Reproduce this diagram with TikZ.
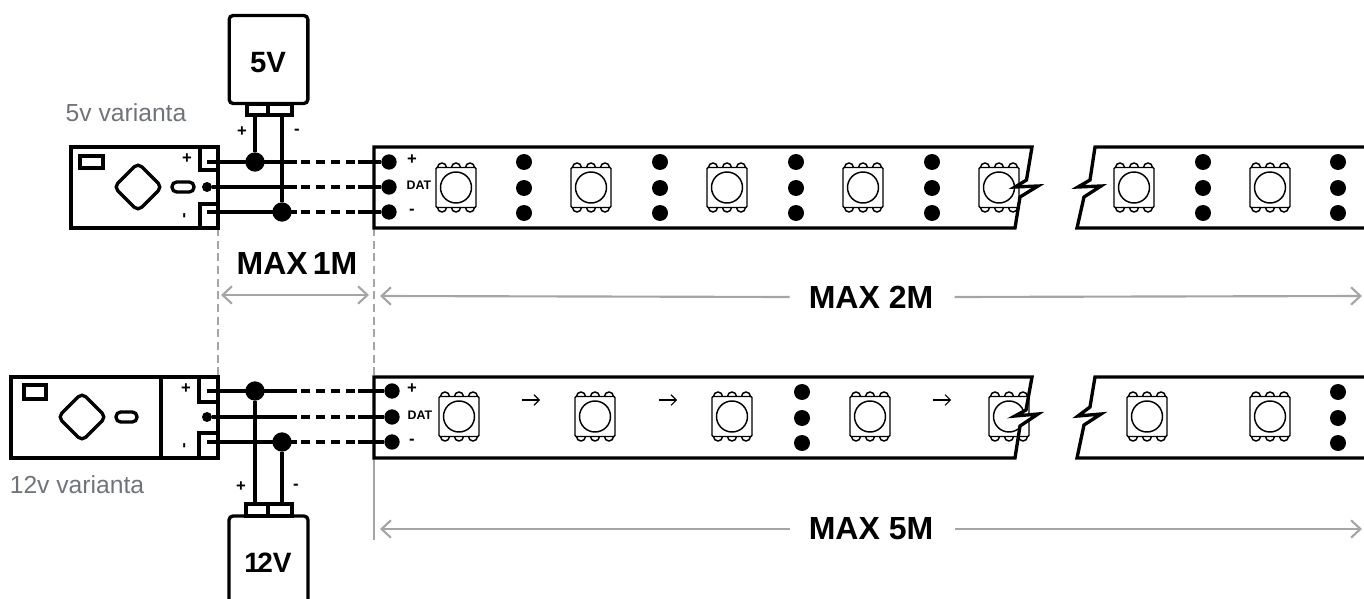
\documentclass[tikz,border=0pt]{standalone}
\usepackage{fontspec}
\setmainfont{Liberation Sans}
\usetikzlibrary{arrows.meta, calc}
\definecolor{guide}{RGB}{165, 165, 165}
\definecolor{caption}{RGB}{112, 116, 122}

\tikzset{
    box/.style={line width=2.5pt, line join=miter},
    wire/.style={line width=2.4pt},
    wiredash/.style={line width=2.4pt, dash pattern=on 6.75pt off 4.5pt},
    junction/.style={circle, fill=black, inner sep=0pt, minimum size=14.5pt},
    pad/.style={circle, fill=black, inner sep=0pt, minimum size=11.5pt},
    smalldot/.style={circle, fill=black, inner sep=0pt, minimum size=7.5pt},
    stripdot/.style={circle, fill=black, inner sep=0pt, minimum size=12pt},
    sign/.style={font=\bfseries\fontsize{12.5}{12}\selectfont, inner sep=0pt},
    datlabel/.style={font=\bfseries\fontsize{9.3}{9}\selectfont, inner sep=0pt},
    volt/.style={font=\bfseries\fontsize{22}{22}\selectfont, inner sep=0pt},
    maxlabel/.style={font=\bfseries\fontsize{24}{24}\selectfont, inner sep=0pt},
    variant/.style={font=\fontsize{18.5}{19}\selectfont, text=caption, inner sep=0pt},
    dim/.style={draw=guide, line width=1.6pt, {Straight Barb[length=7pt,width=13pt]}-{Straight Barb[length=7pt,width=13pt]}},
    dimleft/.style={draw=guide, line width=1.6pt, {Straight Barb[length=7pt,width=13pt]}-},
    dimright/.style={draw=guide, line width=1.6pt, -{Straight Barb[length=7pt,width=13pt]}},
    guideline/.style={draw=guide, line width=1.3pt},
    flow/.style={line width=0.8pt, -{Straight Barb[length=4pt,width=8pt]}},
    led/.pic={
        \draw[line width=1.1pt, fill=white, rounded corners=0.8pt] (-20,-20) rectangle (20,20);
        \foreach \b in {-14,0,14} {
            \draw[line width=1.1pt] (\b-4.5,-20) arc (180:360:4.5);
            \draw[line width=1.1pt] (\b-4.5,20) arc (180:0:4.5);
        }
        \draw[line width=1.1pt] (0,0) circle (15.5);
    }
}

\begin{document}
\begin{tikzpicture}[x=0.75pt, y=-0.75pt]
    \useasboundingbox (0,0) rectangle (1364,599);

    % Guides
    \coordinate (g1a) at (218,228);
    \coordinate (g1b) at (218,377);
    \coordinate (g2a) at (374,228);
    \coordinate (g2b) at (374,377);
    \coordinate (g3a) at (374,458);
    \coordinate (g3b) at (374,540);
    \draw[guideline, dashed, dash pattern=on 6pt off 3.5pt] (g1a) -- (g1b);
    \draw[guideline, dashed, dash pattern=on 6pt off 3.5pt] (g2a) -- (g2b);
    \draw[guideline] (g3a) -- (g3b);

    % LEDs
    \foreach \x in {456,591,727,863,999,1134,1270}
        \pic at (\x,187.5) {led};
    \foreach \x in {459,595,732,870,1009,1147,1270}
        \pic at (\x,416.5) {led};

    % Upper strip
    \fill[white] (1026.5,180) -- (1015,187) -- (1038,186) -- (1020,197) -- cycle;
    \draw[box] (1032,147) -- (374,147) -- (374,228) -- (1015,228) -- (1020,197)
        -- (1038,186) -- (1015,187) -- (1026.5,180) -- cycle;
    \draw[box] (1364,147) -- (1095,147) -- (1090,180) -- (1078,187) -- (1101,186)
        -- (1084,197) -- (1077,228) -- (1364,228);
    \foreach \x in {524,660,796,932,1203,1338}
        \foreach \y in {162,188,213}
            \node[stripdot] at (\x,\y) {};

    % Lower strip
    \fill[white] (1026,410) -- (1015,416) -- (1038,414) -- (1020,426) -- cycle;
    \draw[box] (1032,377) -- (374,377) -- (374,458) -- (1015,458) -- (1020,426)
        -- (1038,414) -- (1015,416) -- (1026,410) -- cycle;
    \draw[box] (1364,377) -- (1095,377) -- (1090,407) -- (1078,416) -- (1101,414)
        -- (1084,425) -- (1077,458) -- (1364,458);
    \foreach \x in {802,1338}
        \foreach \y in {392,418,443}
            \node[stripdot] at (\x,\y) {};
    \foreach \x in {522,659,933}
        \draw[flow] (\x,400) -- (\x+18,400);

    % 5v controller
    \draw[box] (71,147) rectangle (218,228);
    \draw[box] (80,156) rectangle (103,168);
    \draw[box, rounded corners=4pt] (138,163) -- (162,187) -- (138,211) -- (114,187) -- cycle;
    \draw[box, rounded corners=3.5pt] (172,182) rectangle (194,192);
    \draw[box] (200,147) -- (200,170) -- (218,170);
    \draw[box] (218,204) -- (200,204) -- (200,228);
    \node[sign] at (187,159) {+};
    \node[sign, rotate=90] at (186,216) {-};

    % 12v controller
    \draw[box] (11,377) rectangle (218,458);
    \draw[box] (161,377) -- (161,458);
    \draw[box] (24,385) rectangle (46,399);
    \draw[box, rounded corners=4pt] (82,393) -- (106,417) -- (82,441) -- (58,417) -- cycle;
    \draw[box, rounded corners=3.5pt] (116,412) rectangle (137,422);
    \draw[box] (199,377) -- (199,402) -- (218,402);
    \draw[box] (218,433) -- (199,433) -- (199,458);
    \node[sign] at (186,389) {+};
    \node[sign, rotate=90] at (186,446) {-};

    % Supplies
    \node[draw, box, rounded corners=3pt, minimum width=59pt, minimum height=66pt] (sup5) at (268.5,59.5) {};
    \node[volt] (sup5text) at (268,63) {5V};
    \draw[box] (247,104) rectangle (292,115);
    \draw[box] (268,104) -- (268,115);
    \draw[box, rounded corners=3pt] (229,610) -- (229,516) -- (308,516) -- (308,610);
    \node[volt, font=\bfseries\fontsize{21}{21}\selectfont] (sup12text) at (268,563) {1\kern-2pt 2V};
    \draw[box] (246,504) rectangle (292,516);
    \draw[box] (268,504) -- (268,516);
    \node[sign] at (242,132) {+};
    \node[sign] at (297,132) {-};
    \node[sign] at (241,487) {+};
    \node[sign] at (296,487) {-};

    % Wires 5v
    \coordinate (c5p) at (207,162);
    \node[smalldot] (c5d) at (207,187) {};
    \coordinate (c5m) at (207,212);
    \node[junction] (j5p) at (255,162) {};
    \node[junction] (j5m) at (282,212) {};
    \coordinate (sp5p) at (255,115);
    \coordinate (sp5m) at (282,115);
    \foreach \n/\y in {p/162,d/187,m/212} {
        \node[pad] (s5\n) at (389,\y) {};
        \coordinate (a5\n) at (297,\y);
        \coordinate (b5\n) at (301,\y);
        \coordinate (e5\n) at (358,\y);
        \draw[wire] (c5\n) -- (a5\n);
        \draw[wiredash] (b5\n) -- (e5\n);
        \draw[wire] (e5\n) -- (s5\n);
    }
    \draw[wire] (sp5p) -- (j5p);
    \draw[wire] (sp5m) -- (j5m);

    % Wires 12v
    \coordinate (c12p) at (207,391);
    \node[smalldot] (c12d) at (207,417) {};
    \coordinate (c12m) at (207,442);
    \node[junction] (j12p) at (255,391) {};
    \node[junction] (j12m) at (282,442) {};
    \coordinate (sp12p) at (255,504);
    \coordinate (sp12m) at (282,504);
    \foreach \n/\y in {p/391,d/417,m/442} {
        \node[pad] (s12\n) at (392,\y) {};
        \coordinate (a12\n) at (297,\y);
        \coordinate (b12\n) at (301,\y);
        \coordinate (e12\n) at (358,\y);
        \draw[wire] (c12\n) -- (a12\n);
        \draw[wiredash] (b12\n) -- (e12\n);
        \draw[wire] (e12\n) -- (s12\n);
    }
    \draw[wire] (sp12p) -- (j12p);
    \draw[wire] (sp12m) -- (j12m);

    % Strip labels
    \node[sign] at (412,160) {+};
    \node[datlabel] at (419,185) {DAT};
    \node[sign] at (412,212) {-};
    \node[sign] at (412,389) {+};
    \node[datlabel] at (420,415) {DAT};
    \node[sign] at (412,442) {-};

    % Captions
    \node[variant] (cap5) at (126,113) {5v varianta};
    \node[variant] (cap12) at (77,485) {12v varianta};

    % Dimensions
    \node[maxlabel] (max1) at (297,263) {MAX\hspace{-0.12em} 1M};
    \node[maxlabel] (max2) at (871,297) {MAX 2M};
    \node[maxlabel] (max5) at (871,529) {MAX 5M};
    \coordinate (d1a) at (221,295);
    \coordinate (d1b) at (369,295);
    \coordinate (d2a) at (380,296);
    \coordinate (d2b) at (1362,296);
    \coordinate (d3a) at (380,529);
    \coordinate (d3b) at (1362,529);
    \draw[dim] (d1a) -- (d1b);
    \draw[dimleft] (d2a) -- ($(max2.west)+(-19,0)$);
    \draw[dimright] ($(max2.east)+(21,0)$) -- (d2b);
    \draw[dimleft] (d3a) -- ($(max5.west)+(-19,0)$);
    \draw[dimright] ($(max5.east)+(21,0)$) -- (d3b);
\end{tikzpicture}
\end{document}
